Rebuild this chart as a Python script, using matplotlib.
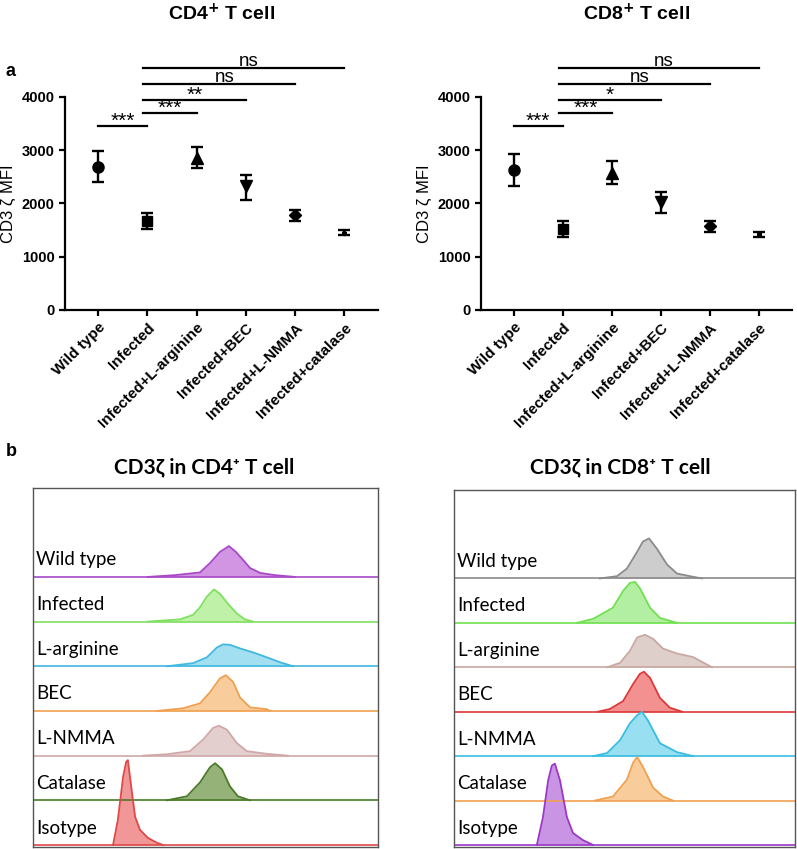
import matplotlib
matplotlib.use("Agg")
import matplotlib.pyplot as plt
import numpy as np

# ---- panel a data ----
groups = ["Wild type", "Infected", "Infected+L-arginine", "Infected+BEC",
          "Infected+L-NMMA", "Infected+catalase"]
markers = ["o", "s", "^", "v", "D", "h"]
msizes = [8, 7, 8, 8, 6, 3]

cd4_mean = [2690, 1670, 2850, 2320, 1780, 1450]
cd4_low = [2400, 1520, 2660, 2070, 1680, 1400]
cd4_high = [2980, 1820, 3060, 2530, 1880, 1500]

cd8_mean = [2630, 1530, 2580, 2020, 1580, 1420]
cd8_low = [2330, 1380, 2370, 1820, 1470, 1380]
cd8_high = [2930, 1680, 2800, 2220, 1680, 1460]

# (from, to, y, label)
cd4_sig = [(0, 1, 3450, "***"), (1, 2, 3700, "***"), (1, 3, 3950, "**"),
           (1, 4, 4250, "ns"), (1, 5, 4550, "ns")]
cd8_sig = [(0, 1, 3450, "***"), (1, 2, 3700, "***"), (1, 3, 3950, "*"),
           (1, 4, 4250, "ns"), (1, 5, 4550, "ns")]

# ---- panel b data (histogram outlines) ----
rows = ["Wild type", "Infected", "L-arginine", "BEC", "L-NMMA", "Catalase", "Isotype"]

cd4_x = [
    [33.3, 41.2, 48.4, 51.3, 54.2, 56.8, 58.8, 60.9, 62.9, 65.8, 70.1, 75.9],
    [33.3, 42.6, 46.4, 48.4, 50.4, 52.5, 54.2, 56.5, 59.1, 61.4, 63.8],
    [38.8, 46.4, 50.4, 53.3, 55.1, 57.1, 60.0, 63.8, 67.8, 71.6, 75.4],
    [35.9, 43.5, 48.4, 51.3, 54.2, 55.9, 58.0, 60.0, 62.9, 67.8, 68.7],
    [31.9, 38.8, 45.5, 49.3, 52.2, 53.9, 56.2, 59.1, 62.0, 67.8, 73.9],
    [38.8, 44.6, 48.4, 51.3, 52.8, 54.8, 57.1, 59.4, 62.9],
    [23.2, 24.6, 26.1, 27.0, 27.5, 28.7, 29.6, 31.0, 33.3, 35.9, 37.7],
]
cd4_h = [
    [0.0, 0.04, 0.1, 0.31, 0.56, 0.69, 0.56, 0.38, 0.2, 0.09, 0.04, 0.0],
    [0.0, 0.05, 0.15, 0.32, 0.56, 0.72, 0.62, 0.4, 0.18, 0.05, 0.0],
    [0.0, 0.07, 0.2, 0.42, 0.49, 0.48, 0.4, 0.31, 0.2, 0.09, 0.0],
    [0.0, 0.06, 0.17, 0.42, 0.73, 0.8, 0.65, 0.3, 0.08, 0.04, 0.0],
    [0.0, 0.03, 0.1, 0.36, 0.62, 0.67, 0.58, 0.28, 0.1, 0.04, 0.0],
    [0.0, 0.09, 0.4, 0.74, 0.83, 0.69, 0.31, 0.09, 0.0],
    [0.0, 0.56, 1.52, 1.86, 1.9, 1.16, 0.63, 0.34, 0.16, 0.05, 0.0],
]
cd4_line = ["#a848c8", "#80e060", "#40b8e0", "#f0a050", "#d0a8a8", "#4a7a2a", "#e04848"]
cd4_fill = ["#cc8ae0", "#b8f0a0", "#98dcf0", "#f8c890", "#e2caca", "#8aaa6a", "#f08c8c"]

cd8_x = [
    [42.8, 47.8, 50.7, 53.7, 55.4, 57.2, 59.5, 62.5, 65.4, 69.2, 72.7],
    [36.1, 40.8, 46.6, 49.6, 51.6, 53.1, 54.5, 57.5, 60.4, 65.4],
    [44.9, 48.7, 51.6, 53.7, 56.0, 58.4, 61.3, 65.4, 70.1, 73.0, 75.7],
    [42.2, 45.7, 49.6, 52.5, 54.5, 55.7, 57.5, 60.4, 63.3, 66.9],
    [40.8, 44.9, 48.7, 51.6, 53.7, 55.1, 56.9, 60.4, 65.4, 70.1],
    [41.3, 46.6, 50.7, 52.5, 53.7, 55.4, 58.4, 61.3, 64.2],
    [24.3, 26.1, 27.6, 28.7, 29.6, 31.1, 33.1, 34.9, 37.8, 40.8],
]
cd8_h = [
    [0.0, 0.05, 0.22, 0.6, 0.83, 0.9, 0.67, 0.31, 0.11, 0.05, 0.0],
    [0.0, 0.09, 0.34, 0.72, 0.9, 0.92, 0.78, 0.34, 0.11, 0.0],
    [0.0, 0.1, 0.37, 0.67, 0.73, 0.64, 0.42, 0.31, 0.23, 0.11, 0.0],
    [0.0, 0.06, 0.24, 0.62, 0.85, 0.9, 0.76, 0.31, 0.09, 0.0],
    [0.0, 0.07, 0.36, 0.74, 0.92, 1.0, 0.8, 0.29, 0.09, 0.0],
    [0.0, 0.09, 0.47, 0.85, 0.98, 0.76, 0.29, 0.09, 0.0],
    [0.0, 0.63, 1.45, 1.79, 1.83, 1.45, 0.63, 0.27, 0.11, 0.0],
]
cd8_line = ["#8a8a8a", "#70e050", "#c8a8a0", "#dd3838", "#38bce0", "#f0a050", "#9a38c8"]
cd8_fill = ["#c8c8c8", "#aaee99", "#dccac6", "#f28484", "#8cdcf0", "#f8c890", "#c488e0"]

plt.rcParams["font.family"] = ["Liberation Sans", "DejaVu Sans"]
fig = plt.figure(figsize=(7.97, 8.49), dpi=100)
W, H = 797, 849


def px_axes(x0, y0, x1, y1):
    return fig.add_axes([x0 / W, 1 - y1 / H, (x1 - x0) / W, (y1 - y0) / H])


def dot_panel(ax, mean, low, high, sig):
    x = np.arange(len(groups))
    for i in x:
        ax.errorbar(i, mean[i], yerr=[[mean[i] - low[i]], [high[i] - mean[i]]],
                    fmt=markers[i], color="black", ms=msizes[i], capsize=4.5,
                    elinewidth=1.7, capthick=1.7)
    ax.set_xlim(-0.67, 5.68)
    ax.set_ylim(0, 4000)
    ax.set_yticks([0, 1000, 2000, 3000, 4000])
    ax.set_xticks(x)
    ax.set_xticklabels(groups, rotation=45, ha="right", rotation_mode="anchor",
                       fontsize=11, fontweight="bold")
    for lab in ax.get_yticklabels():
        lab.set_fontweight("bold")
        lab.set_fontsize(10.5)
    ax.tick_params(width=1.6, length=4.5, pad=3)
    for s in ["top", "right"]:
        ax.spines[s].set_visible(False)
    for s in ["left", "bottom"]:
        ax.spines[s].set_linewidth(1.6)
    ax.set_ylabel("CD3 ζ MFI", fontsize=12, fontweight="medium", labelpad=4)
    for a, b, y, lab in sig:
        xa = a - 0.08 if a == 1 else a
        ax.plot([xa, b], [y, y], color="black", lw=1.6, clip_on=False)
        if lab == "ns":
            ax.text((xa + b) / 2 + 0.1, y + 40, lab, ha="center", va="baseline",
                    fontsize=13.5, clip_on=False)
        else:
            ax.text((xa + b) / 2, y - 15, lab, ha="center", va="baseline",
                    fontsize=15, clip_on=False)


ax1 = px_axes(65, 97, 378, 310)
dot_panel(ax1, cd4_mean, cd4_low, cd4_high, cd4_sig)
ax2 = px_axes(481, 97, 792, 310)
dot_panel(ax2, cd8_mean, cd8_low, cd8_high, cd8_sig)

fig.text(222 / W, 1 - 14 / H, r"CD4$^{\mathbf{+}}$ T cell", ha="center", va="center",
         fontsize=14, fontweight="bold")
fig.text(637 / W, 1 - 14 / H, r"CD8$^{\mathbf{+}}$ T cell", ha="center", va="center",
         fontsize=14, fontweight="bold")
fig.text(6 / W, 1 - 71 / H, "a", ha="left", va="center", fontsize=13, fontweight="bold")
fig.text(6 / W, 1 - 451 / H, "b", ha="left", va="center", fontsize=13, fontweight="bold")


def hist_panel(ax, xs, hs, lines, fills):
    n = len(rows)
    for r in range(n):
        base = n - 1 - r
        ax.plot([0, 100], [base, base], color=lines[r], lw=1.2, zorder=2)
        yy = base + np.array(hs[r])
        ax.fill_between(xs[r], base, yy, color=fills[r], alpha=0.9, lw=0, zorder=1)
        ax.plot(xs[r], yy, color=lines[r], lw=1.3, zorder=3)
        ax.text(1.0, base + 0.38, rows[r], ha="left", va="center", fontsize=13.5,
                family=["Lato", "DejaVu Sans"], zorder=4)
    ax.set_xlim(0, 100)
    ax.set_ylim(-0.045, 7.99)
    ax.set_xticks([])
    ax.set_yticks([])
    for s in ax.spines.values():
        s.set_color("#555555")
        s.set_linewidth(1.0)


ax3 = px_axes(33, 488, 378, 847)
hist_panel(ax3, cd4_x, cd4_h, cd4_line, cd4_fill)
ax4 = px_axes(454, 490, 795, 847)
hist_panel(ax4, cd8_x, cd8_h, cd8_line, cd8_fill)

fig.text(204 / W, 1 - 467 / H, "CD3ζ in CD4⁺ T cell", ha="center", va="center",
         fontsize=15, fontweight="bold", family=["Lato", "DejaVu Sans"])
fig.text(620 / W, 1 - 467 / H, "CD3ζ in CD8⁺ T cell", ha="center", va="center",
         fontsize=15, fontweight="bold", family=["Lato", "DejaVu Sans"])

fig.savefig("out.png", dpi=100)
